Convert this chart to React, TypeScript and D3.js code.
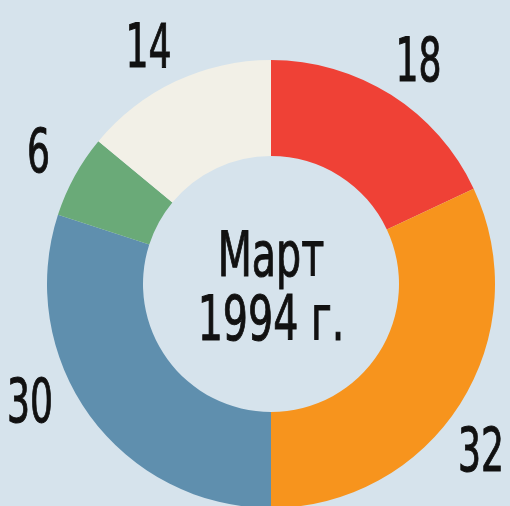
import React, { useRef, useEffect } from "react";
import * as d3 from "d3";

const labels = ["a", "b", "c", "d", "e"];
const values = [18, 32, 30, 6, 14];
const colors = ["#ef4136", "#f7941d", "#5f8fae", "#6aaa78", "#f2f0e7"];
// small angle nudges (degrees) for label placement
const labelNudge = [1, 6, 10, 1, -2];
const title = ["Март", "1994 г."];

const App = () => {
  const ref = useRef<SVGSVGElement>(null);

  useEffect(() => {
    const svg = d3.select(ref.current);
    svg.selectAll("*").remove();

    const width = 510;
    const height = 506;
    const cx = 271;
    const cy = 284;
    const outer = 224;
    const inner = 128;
    const labelR = 268;
    const font = "'DejaVu Sans Condensed', 'Liberation Sans Narrow', sans-serif";

    svg.attr("width", width).attr("height", height);
    svg.append("rect").attr("width", width).attr("height", height).attr("fill", "#d6e3ec");

    const data = labels.map((l, i) => ({ label: l, value: values[i], i }));
    const pie = d3.pie<any>().value((d) => d.value).sort(null);
    const arc = d3.arc<any>().innerRadius(inner).outerRadius(outer);

    const g = svg.append("g").attr("transform", `translate(${cx},${cy})`);

    g.selectAll("path")
      .data(pie(data))
      .enter()
      .append("path")
      .attr("d", arc)
      .attr("fill", (d) => colors[d.data.i]);

    g.selectAll("text.label")
      .data(pie(data))
      .enter()
      .append("text")
      .attr("class", "label")
      .attr("transform", (d) => {
        const a = (d.startAngle + d.endAngle) / 2 + (labelNudge[d.data.i] * Math.PI) / 180;
        const x = Math.sin(a) * labelR;
        const y = -Math.cos(a) * labelR;
        return `translate(${x},${y + 21}) scale(0.67,1)`;
      })
      .style("text-anchor", "middle")
      .style("font-family", font)
      .style("font-size", "60px")
      .style("fill", "#111")
      .style("stroke", "#111")
      .style("stroke-width", "1px")
      .text((d) => d.data.value);

    g.selectAll("text.title")
      .data(title)
      .enter()
      .append("text")
      .attr("class", "title")
      .attr("transform", (d, i) => `translate(0,${i === 0 ? -8 : 56}) scale(0.71,1)`)
      .style("text-anchor", "middle")
      .style("font-family", font)
      .style("font-size", "62px")
      .style("fill", "#111")
      .style("stroke", "#111")
      .style("stroke-width", "1px")
      .text((d) => d);
  }, []);

  return (
    <div style={{ position: "fixed", left: 0, top: 0 }}>
      <svg ref={ref} style={{ display: "block" }}></svg>
    </div>
  );
};

export default App;
